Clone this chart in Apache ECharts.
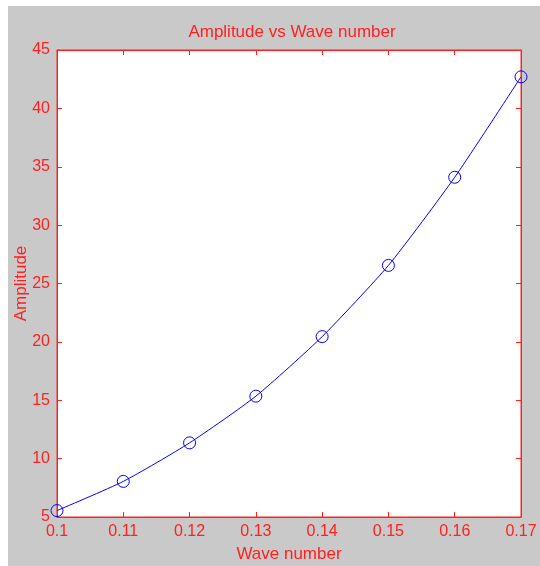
<!DOCTYPE html>
<html>
<head>
<meta charset="utf-8">
<script src="https://cdn.jsdelivr.net/npm/echarts@6/dist/echarts.min.js"></script>
<style>
  html, body { margin: 0; padding: 0; background: #fff; }
  #frame { position: absolute; left: 8px; top: 6px; right: 0; bottom: 0; background: #c9c9c9; }
  #chart { position: absolute; left: 0; top: 0; width: 540px; height: 566px; }
</style>
</head>
<body>
<div id="frame"></div>
<div id="chart"></div>
<script>
// wave number vs amplitude
const waveNumbers = [0.1, 0.11, 0.12, 0.13, 0.14, 0.15, 0.16, 0.17];
const amplitudes = [5.55, 8.05, 11.35, 15.35, 20.45, 26.55, 34.1, 42.7];

const red = "#ff2020";
const font = "Liberation Sans, Arial, sans-serif";

const tick = { show: true, inside: true, length: 5, lineStyle: { color: red, width: 1 } };
const line = { show: true, lineStyle: { color: red, width: 1 } };

const chart = echarts.init(document.getElementById("chart"), null, { renderer: "canvas" });

chart.setOption({
  backgroundColor: "transparent",
  animation: false,
  title: {
    text: "Amplitude vs Wave number",
    left: 287,
    textAlign: "center",
    top: 19,
    textStyle: { color: red, fontSize: 17, fontWeight: "normal", fontFamily: font },
  },
  grid: {
    left: 57,
    top: 50,
    right: 19,
    bottom: 49,
    outerBoundsMode: "none",
    show: true,
    backgroundColor: "#fff",
    borderColor: red,
    borderWidth: 1,
  },
  xAxis: [
    {
      type: "value",
      min: 0.1,
      max: 0.17,
      interval: 0.01,
      name: "Wave number",
      nameLocation: "middle",
      nameGap: 29,
      nameMoveOverlap: false,
      nameTextStyle: { color: red, fontSize: 17, fontFamily: font },
      axisLine: line,
      axisTick: tick,
      splitLine: { show: false },
      axisLabel: {
        color: red,
        fontSize: 16,
        fontFamily: font,
        margin: 7,
        formatter: (v) => String(+v.toFixed(2)),
      },
    },
    {
      type: "value",
      position: "top",
      min: 0.1,
      max: 0.17,
      interval: 0.01,
      axisLine: line,
      axisTick: tick,
      axisLabel: { show: false },
      splitLine: { show: false },
    },
  ],
  yAxis: [
    {
      type: "value",
      min: 5,
      max: 45,
      interval: 5,
      name: "Amplitude",
      nameLocation: "middle",
      nameGap: 27,
      nameMoveOverlap: false,
      nameTextStyle: { color: red, fontSize: 17, fontFamily: font },
      axisLine: line,
      axisTick: tick,
      splitLine: { show: false },
      axisLabel: { color: red, fontSize: 16, fontFamily: font, margin: 7 },
    },
    {
      type: "value",
      position: "right",
      min: 5,
      max: 45,
      interval: 5,
      axisLine: line,
      axisTick: tick,
      axisLabel: { show: false },
      splitLine: { show: false },
    },
  ],
  series: [
    {
      type: "line",
      data: waveNumbers.map((x, i) => [x, amplitudes[i]]),
      smooth: 0.2,
      symbol: "circle",
      symbolSize: 12,
      lineStyle: { color: "#0000ff", width: 1 },
      itemStyle: { color: "transparent", borderColor: "#0000ff", borderWidth: 1 },
    },
  ],
});
</script>
</body>
</html>
